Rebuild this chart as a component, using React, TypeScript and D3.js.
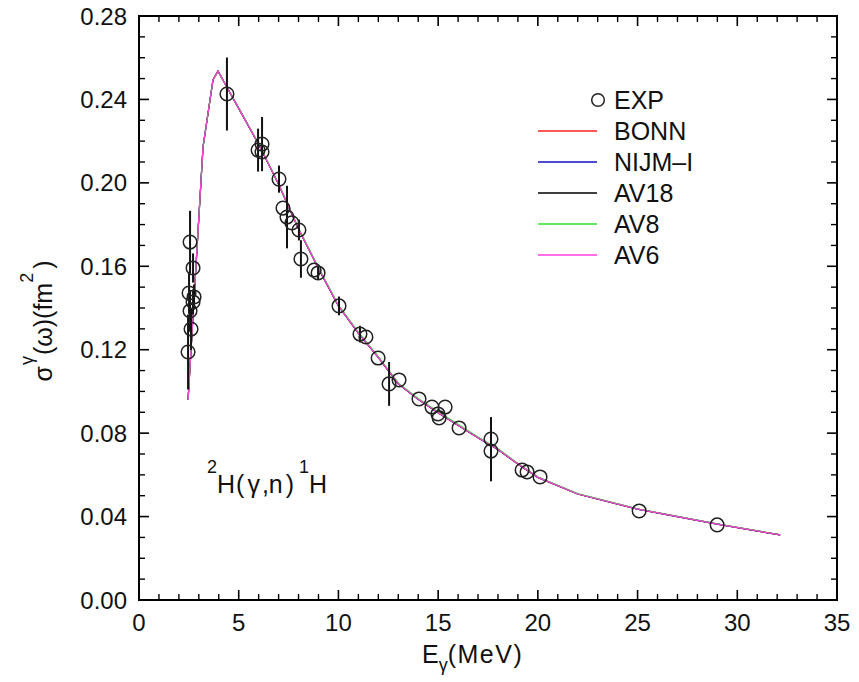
import React from "react";
import * as d3 from "d3";

// ---------- data ----------
const expE = [2.46, 2.51, 2.56, 2.56, 2.61, 2.71, 2.71, 2.76, 4.41, 5.97, 6.17, 6.17, 7.02, 7.22, 7.42, 7.67, 8.02, 8.12, 8.78, 8.98, 10.03, 11.08, 11.38, 11.99, 12.54, 13.04, 14.04, 14.69, 14.99, 15.05, 15.35, 16.05, 17.65, 17.65, 19.21, 19.46, 20.11, 25.08, 28.99];
const expSigma = [0.1189, 0.1472, 0.1716, 0.1386, 0.1299, 0.1592, 0.1429, 0.1453, 0.2426, 0.2157, 0.2186, 0.2148, 0.2018, 0.1879, 0.1836, 0.1808, 0.1774, 0.1635, 0.1582, 0.1568, 0.141, 0.1275, 0.1261, 0.116, 0.1036, 0.1055, 0.0964, 0.0925, 0.0892, 0.0873, 0.0925, 0.0825, 0.0772, 0.0714, 0.0623, 0.0614, 0.059, 0.0427, 0.036];
const expErr = [0.018, 0.01, 0.015, 0.01, 0.01, 0.007, 0.006, 0.006, 0.0175, 0.0103, 0.013, 0, 0.0065, 0, 0.015, 0, 0.005, 0.009, 0, 0.003, 0.0045, 0.004, 0, 0, 0.0105, 0, 0, 0, 0, 0, 0, 0, 0.0105, 0.0145, 0, 0, 0, 0, 0];

const theoryE = [2.46, 3.21, 3.71, 3.96, 4.5, 5, 6, 7, 8, 9, 10, 11, 12, 13, 14, 15, 16, 17, 18, 19, 20, 22, 25, 29, 32.15];
const bonn = [0.0959, 0.2172, 0.2493, 0.2536, 0.2443, 0.2357, 0.2185, 0.1993, 0.1779, 0.159, 0.141, 0.128, 0.1163, 0.1037, 0.0962, 0.0898, 0.0838, 0.0778, 0.0722, 0.0652, 0.0588, 0.0508, 0.0436, 0.0364, 0.0312];
const nijm = [0.0959, 0.2172, 0.2493, 0.2536, 0.2443, 0.2357, 0.2185, 0.1993, 0.1779, 0.159, 0.141, 0.128, 0.1163, 0.1037, 0.0962, 0.0898, 0.0838, 0.0778, 0.0722, 0.0652, 0.0588, 0.0508, 0.0436, 0.0364, 0.0312];
const av18 = [0.0959, 0.2172, 0.2493, 0.2536, 0.2443, 0.2357, 0.2185, 0.1993, 0.1779, 0.159, 0.141, 0.128, 0.1163, 0.1037, 0.0962, 0.0898, 0.0838, 0.0778, 0.0722, 0.0652, 0.0588, 0.0508, 0.0436, 0.0364, 0.0312];
const av8 = [0.0959, 0.2172, 0.2493, 0.2536, 0.2443, 0.2359, 0.2188, 0.1996, 0.1783, 0.1594, 0.1414, 0.1284, 0.1167, 0.1041, 0.0966, 0.0902, 0.0842, 0.0782, 0.0725, 0.0655, 0.059, 0.051, 0.0437, 0.0365, 0.0313];
const av6 = [0.0959, 0.2172, 0.2493, 0.2536, 0.2443, 0.2357, 0.2185, 0.1993, 0.1779, 0.159, 0.141, 0.128, 0.1163, 0.1037, 0.0962, 0.0898, 0.0838, 0.0778, 0.0722, 0.0652, 0.0588, 0.0508, 0.0436, 0.0364, 0.0312];

const modelNames = ["BONN", "NIJM\u2013I", "AV18", "AV8", "AV6"];
const modelColors = ["#ff2020", "#1010c0", "#000000", "#30e030", "#ff40e0"];
const modelValues = [bonn, nijm, av18, av8, av6];

const xMajorTicks = [0, 5, 10, 15, 20, 25, 30, 35];
const yMajorTicks = [0, 0.04, 0.08, 0.12, 0.16, 0.2, 0.24, 0.28];
const yTickLabels = ["0.00", "0.04", "0.08", "0.12", "0.16", "0.20", "0.24", "0.28"];

// ---------- layout ----------
const W = 859, H = 682;
const L = 139, R = 837, T = 16, B = 600;
const FONT = "'Liberation Sans', Arial, Helvetica, sans-serif";

export default function App() {
  const x = d3.scaleLinear().domain([0, 35]).range([L, R]);
  const y = d3.scaleLinear().domain([0, 0.28]).range([B, T]);

  const xMinor = d3.range(0, 35.001, 1).filter((v) => v % 5 !== 0);
  const yMinor = d3.range(0, 28.001, 1).filter((v) => v % 4 !== 0).map((v) => v / 100);

  const line = d3
    .line<[number, number]>()
    .x((d) => x(d[0]))
    .y((d) => y(d[1]));

  const majorLen = 10, minorLen = 6;

  const legendRowsY = [100, 131, 162, 193, 224, 255];

  return (
    <svg width={W} height={H} style={{ position: "absolute", left: 0, top: 0, background: "#fff" }} fontFamily={FONT}>
      <rect x={0} y={0} width={W} height={H} fill="#fff" />
      {/* theory curves */}
      {modelValues.map((vals, i) => (
        <path
          key={modelNames[i]}
          d={line(theoryE.map((e, j) => [e, vals[j]]) as [number, number][]) || ""}
          fill="none"
          stroke={modelColors[i]}
          strokeWidth={1.2}
        />
      ))}
      {/* error bars */}
      {expE.map((e, i) =>
        expErr[i] > 0 ? (
          <line
            key={"eb" + i}
            x1={x(e)}
            x2={x(e)}
            y1={y(expSigma[i] - expErr[i])}
            y2={y(expSigma[i] + expErr[i])}
            stroke="#111"
            strokeWidth={2}
          />
        ) : null
      )}
      {/* points */}
      {expE.map((e, i) => (
        <circle key={"p" + i} cx={x(e)} cy={y(expSigma[i])} r={6.8} fill="none" stroke="#222" strokeWidth={1.5} />
      ))}

      {/* frame */}
      <rect x={L} y={T} width={R - L} height={B - T} fill="none" stroke="#000" strokeWidth={2} />
      {/* x ticks bottom & top */}
      {xMajorTicks.map((v) => (
        <g key={"xt" + v}>
          <line x1={x(v)} x2={x(v)} y1={B} y2={B - majorLen} stroke="#000" strokeWidth={1.6} />
          <line x1={x(v)} x2={x(v)} y1={T} y2={T + majorLen} stroke="#000" strokeWidth={1.6} />
          <text x={x(v)} y={631} textAnchor="middle" fontSize={24} fill="#111">
            {v}
          </text>
        </g>
      ))}
      {xMinor.map((v) => (
        <g key={"xm" + v}>
          <line x1={x(v)} x2={x(v)} y1={B} y2={B - minorLen} stroke="#000" strokeWidth={1.4} />
          <line x1={x(v)} x2={x(v)} y1={T} y2={T + minorLen} stroke="#000" strokeWidth={1.4} />
        </g>
      ))}
      {/* y ticks left & right */}
      {yMajorTicks.map((v, i) => (
        <g key={"yt" + i}>
          <line x1={L} x2={L + majorLen} y1={y(v)} y2={y(v)} stroke="#000" strokeWidth={1.6} />
          <line x1={R} x2={R - majorLen} y1={y(v)} y2={y(v)} stroke="#000" strokeWidth={1.6} />
          <text x={127} y={y(v) + 8.5} textAnchor="end" fontSize={24} fill="#111">
            {yTickLabels[i]}
          </text>
        </g>
      ))}
      {yMinor.map((v, i) => (
        <g key={"ym" + i}>
          <line x1={L} x2={L + minorLen} y1={y(v)} y2={y(v)} stroke="#000" strokeWidth={1.4} />
          <line x1={R} x2={R - minorLen} y1={y(v)} y2={y(v)} stroke="#000" strokeWidth={1.4} />
        </g>
      ))}

      {/* x axis title */}
      <text x={422} y={663} fontSize={25} fill="#111">
        E
        <tspan fontSize={18} dy={8}>γ</tspan>
        <tspan fontSize={25} dy={-8} letterSpacing={1.5}>(MeV)</tspan>
      </text>

      {/* y axis title */}
      <text transform="translate(52,321) rotate(-90)" textAnchor="middle" fontSize={25} fill="#111">
        σ
        <tspan fontSize={18} dy={-19} dx={1}>γ</tspan>
        <tspan fontSize={25} dy={19} dx={1}>(ω)(fm</tspan>
        <tspan fontSize={18} dy={-19}>2</tspan>
        <tspan fontSize={25} dy={19} dx={4}>)</tspan>
      </text>

      {/* reaction annotation */}
      <text x={207} y={493} fontSize={25} fill="#111">
        <tspan fontSize={18} dy={-20}>2</tspan>
        <tspan fontSize={25} dy={20}>H</tspan>
        <tspan dx={1}>(</tspan>
        <tspan dx={3}>γ</tspan>
        <tspan dx={2}>,n</tspan>
        <tspan dx={3}>)</tspan>
        <tspan fontSize={18} dx={5} dy={-20}>1</tspan>
        <tspan fontSize={25} dy={20}>H</tspan>
      </text>

      {/* legend */}
      <circle cx={598} cy={legendRowsY[0]} r={6.3} fill="none" stroke="#222" strokeWidth={1.5} />
      <text x={614} y={legendRowsY[0] + 9} fontSize={25} fill="#111">EXP</text>
      {modelNames.map((n, i) => (
        <g key={"lg" + n}>
          <line x1={538} x2={597} y1={legendRowsY[i + 1]} y2={legendRowsY[i + 1]} stroke={modelColors[i]} strokeWidth={1.3} />
          <text x={614} y={legendRowsY[i + 1] + 9} fontSize={25} fill="#111">
            {n}
          </text>
        </g>
      ))}
    </svg>
  );
}
